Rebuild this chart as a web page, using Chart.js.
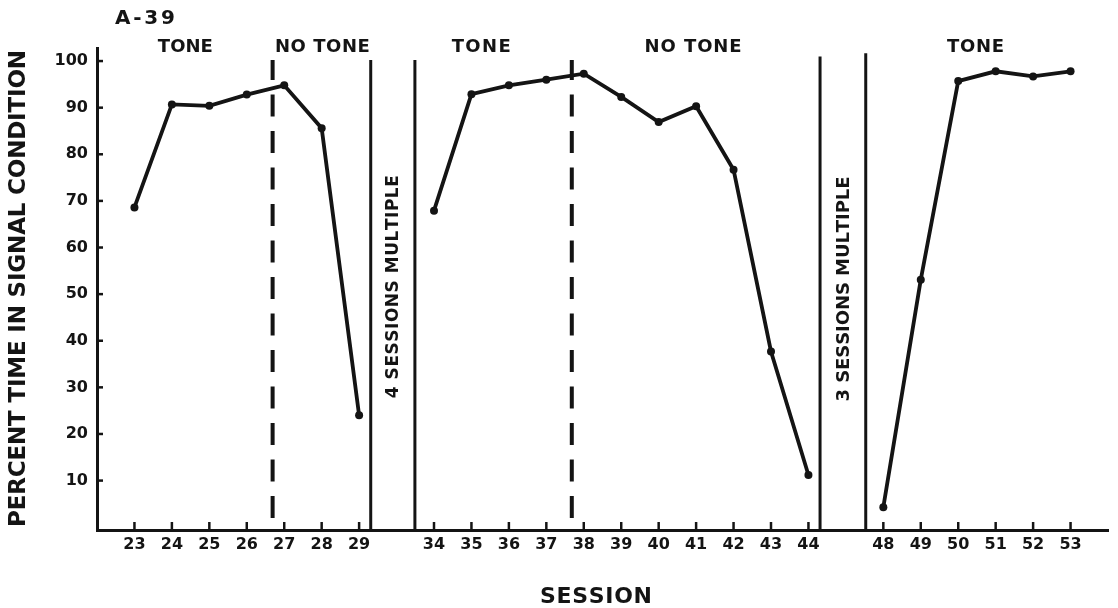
<!DOCTYPE html>
<html>
<head>
<meta charset="utf-8">
<title>A-39</title>
<script src="https://cdn.jsdelivr.net/npm/chart.js@4/dist/chart.umd.min.js"></script>
<style>
html, body { margin: 0; padding: 0; background: #fff; }
</style>
</head>
<body>
<canvas id="chart" width="1118" height="608"></canvas>
<script>
// sessions and percent time in signal condition
var sessionsA = [23, 24, 25, 26, 27, 28, 29];
var valuesA = [68.6, 90.7, 90.4, 92.8, 94.8, 85.6, 24.0];
var sessionsB = [34, 35, 36, 37, 38, 39, 40, 41, 42, 43, 44];
var valuesB = [67.9, 92.9, 94.8, 96.0, 97.3, 92.3, 86.9, 90.3, 76.7, 37.7, 11.2];
var sessionsC = [48, 49, 50, 51, 52, 53];
var valuesC = [4.3, 53.1, 95.7, 97.8, 96.7, 97.8];
var yTicks = [10, 20, 30, 40, 50, 60, 70, 80, 90, 100];

var phaseLabels = ['TONE', 'NO TONE', 'TONE', 'NO TONE', 'TONE'];
var gapNotes = ['4 SESSIONS MULTIPLE', '3 SESSIONS MULTIPLE'];

// build the category axis: a blank slot before, between and after the runs
var labels = [''];
var values = [null];
[[sessionsA, valuesA], [sessionsB, valuesB], [sessionsC, valuesC]].forEach(function(run){
    run[0].forEach(function(s, i){
        labels.push(String(s));
        values.push(run[1][i]);
    });
    labels.push('');
    values.push(null);
});

var INK = '#141414';
var FONT = '"DejaVu Sans", "Liberation Sans", sans-serif';

// draws text letter by letter so it spans a given length
function spreadText(ctx, text, cx, cy, length, size, angle){
    ctx.save();
    ctx.translate(cx, cy);
    if(angle) ctx.rotate(angle);
    ctx.font = 'bold ' + size + 'px ' + FONT;
    ctx.fillStyle = INK;
    ctx.textAlign = 'left';
    ctx.textBaseline = 'middle';
    var widths = [];
    var total = 0;
    for(var i = 0; i < text.length; i++){
        var w = ctx.measureText(text[i]).width;
        widths.push(w);
        total += w;
    }
    var gap = text.length > 1 ? (length - total) / (text.length - 1) : 0;
    var x = -length / 2;
    for(var j = 0; j < text.length; j++){
        ctx.fillText(text[j], x, 0);
        x += widths[j] + gap;
    }
    ctx.restore();
}

var decorations = {
    id: 'decorations',
    beforeDatasetsDraw: function(chart){
        var ctx = chart.ctx;
        var xs = chart.scales.x;
        var ys = chart.scales.y;
        var area = chart.chartArea;
        ctx.save();
        ctx.strokeStyle = INK;

        // inward tick marks
        ctx.lineWidth = 2.5;
        labels.forEach(function(l, i){
            if(l === '') return;
            var px = xs.getPixelForValue(i);
            ctx.beginPath();
            ctx.moveTo(px, area.bottom);
            ctx.lineTo(px, area.bottom - 8);
            ctx.stroke();
        });
        yTicks.forEach(function(v){
            var py = ys.getPixelForValue(v);
            ctx.beginPath();
            ctx.moveTo(area.left, py);
            ctx.lineTo(area.left + 6, py);
            ctx.stroke();
        });

        // solid separators around the skipped sessions
        var solidAt = [7.31, 8.49, 19.31, 20.53];
        var solidTop = [100.2, 100.2, 101.0, 101.7];
        ctx.lineWidth = 3;
        solidAt.forEach(function(p, i){
            var px = xs.getPixelForValue(p);
            ctx.beginPath();
            ctx.moveTo(px, ys.getPixelForValue(solidTop[i]));
            ctx.lineTo(px, area.bottom);
            ctx.stroke();
        });

        // dashed lines: tone switched off
        var dashedAt = [4.69, 12.68];
        ctx.lineWidth = 4;
        ctx.setLineDash([22, 14.5]);
        ctx.lineDashOffset = 2;
        dashedAt.forEach(function(p){
            var px = xs.getPixelForValue(p);
            ctx.beginPath();
            ctx.moveTo(px, ys.getPixelForValue(100.2));
            ctx.lineTo(px, area.bottom);
            ctx.stroke();
        });
        ctx.restore();
    },
    afterDraw: function(chart){
        var ctx = chart.ctx;
        var xs = chart.scales.x;
        var ys = chart.scales.y;

        spreadText(ctx, 'A-39', 145, 19, 60, 20);

        var phaseAt = [2.36, 6.02, 10.26, 15.92, 23.46];
        var phaseLen = [55, 95, 59, 97, 57];
        phaseLabels.forEach(function(t, i){
            spreadText(ctx, t, xs.getPixelForValue(phaseAt[i]), 47, phaseLen[i], 18);
        });

        var noteAt = [7.91, 19.95];
        var noteMid = [51.6, 51.1];
        var noteLen = [223, 225];
        var noteSize = [17, 18];
        gapNotes.forEach(function(t, i){
            spreadText(ctx, t, xs.getPixelForValue(noteAt[i]), ys.getPixelForValue(noteMid[i]), noteLen[i], noteSize[i], -Math.PI / 2);
        });

        spreadText(ctx, 'PERCENT TIME IN SIGNAL CONDITION', 19, 288.5, 477, 23, -Math.PI / 2);
        spreadText(ctx, 'SESSION', 596, 597, 112, 22);
    }
};

new Chart(document.getElementById('chart'), {
    type: 'line',
    data: {
        labels: labels,
        datasets: [{
            data: values,
            borderColor: INK,
            borderWidth: 3.8,
            pointRadius: 4,
            pointHoverRadius: 4,
            pointBackgroundColor: INK,
            pointBorderWidth: 0,
            spanGaps: false,
            tension: 0
        }]
    },
    options: {
        responsive: false,
        animation: false,
        devicePixelRatio: 1,
        layout: { padding: { left: 0, top: 48, right: 10, bottom: 0 } },
        plugins: {
            legend: { display: false },
            tooltip: { enabled: false }
        },
        scales: {
            x: {
                type: 'category',
                offset: false,
                grid: { display: true, drawOnChartArea: false, drawTicks: false },
                border: { display: true, color: INK, width: 3 },
                ticks: {
                    autoSkip: false,
                    maxRotation: 0,
                    padding: 5,
                    color: INK,
                    font: { family: FONT, size: 16, weight: 'bold' }
                },
                afterFit: function(scale){ scale.height = 78; }
            },
            y: {
                min: -0.6,
                max: 102.8,
                grid: { display: true, drawOnChartArea: false, drawTicks: false },
                border: { display: true, color: INK, width: 3 },
                afterBuildTicks: function(scale){
                    scale.ticks = yTicks.map(function(v){ return { value: v }; });
                },
                ticks: {
                    padding: 9,
                    color: INK,
                    font: { family: FONT, size: 16, weight: 'bold' }
                },
                afterFit: function(scale){ scale.width = 97; }
            }
        }
    },
    plugins: [decorations]
});
</script>
</body>
</html>
